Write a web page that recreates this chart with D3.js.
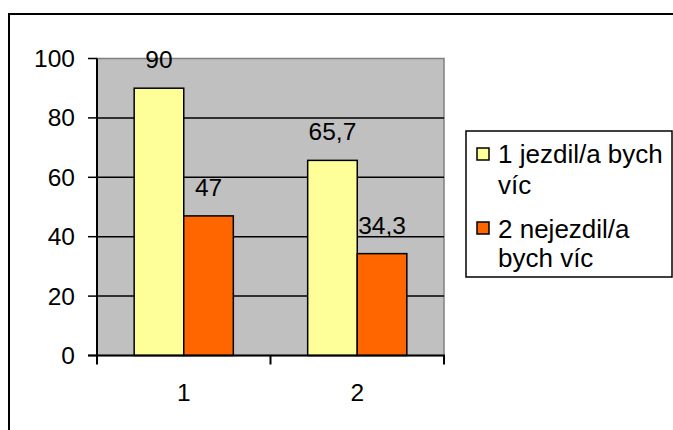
<!DOCTYPE html>
<html><head><meta charset="utf-8">
<script src="https://cdn.jsdelivr.net/npm/d3@7/dist/d3.min.js"></script>
<style>body{margin:0;background:#fff}svg{display:block;font-family:"Liberation Sans",Arial,sans-serif}</style>
</head><body>
<svg id="c" width="673" height="430"></svg>
<script>
const categories = ["1", "2"];
const seriesNames = ["1 jezdil/a bych víc", "2 nejezdil/a bych víc"];
const legendLines = [["1 jezdil/a bych", "víc"], ["2 nejezdil/a", "bych víc"]];
const seriesA = [90, 65.7];
const seriesB = [47, 34.3];
const yTicks = [0, 20, 40, 60, 80, 100];
const colors = ["#FFFF99", "#FF6600"];

const svg = d3.select("#c");
const L = 97, R = 444, T = 58.5, B = 355.5;
const fmt = v => String(v).replace(".", ",");

// outer frame
svg.append("rect").attr("x", 9).attr("y", 14).attr("width", 700).attr("height", 440)
  .attr("fill", "#fff").attr("stroke", "#000").attr("stroke-width", 2);

const y = d3.scaleLinear().domain([0, 100]).range([B, T]);
const x0 = d3.scaleBand().domain(categories).range([L, R]).padding(0);
const x1 = d3.scaleBand().domain([0, 1]).range([0, x0.bandwidth()]).paddingInner(0).paddingOuter(0.75);

// plot area
svg.append("rect").attr("x", L).attr("y", T).attr("width", R - L).attr("height", B - T)
  .attr("fill", "#C0C0C0").attr("stroke", "#808080").attr("stroke-width", 1.5);

// gridlines
svg.append("g").selectAll("line").data(yTicks.filter(d => d > 0 && d < 100)).join("line")
  .attr("x1", L).attr("x2", R).attr("y1", d => y(d)).attr("y2", d => y(d))
  .attr("stroke", "#000").attr("stroke-width", 1.5);

// bars
const data = categories.map((c, i) => ({c, vals: [seriesA[i], seriesB[i]]}));
const g = svg.append("g").selectAll("g").data(data).join("g")
  .attr("transform", d => `translate(${x0(d.c)},0)`);
g.selectAll("rect").data(d => d.vals.map((v, j) => ({v, j}))).join("rect")
  .attr("x", d => x1(d.j)).attr("width", x1.bandwidth())
  .attr("y", d => y(d.v)).attr("height", d => y(0) - y(d.v))
  .attr("fill", d => colors[d.j]).attr("stroke", "#000").attr("stroke-width", 1.5);
g.selectAll("text").data(d => d.vals.map((v, j) => ({v, j}))).join("text")
  .attr("x", d => x1(d.j) + x1.bandwidth() / 2).attr("y", d => y(d.v) - 20)
  .attr("text-anchor", "middle").attr("font-size", 24.5).attr("fill", "#000")
  .text(d => fmt(d.v));

// y axis
const yAxis = svg.append("g");
yAxis.append("line").attr("x1", L).attr("x2", L).attr("y1", T).attr("y2", B).attr("stroke", "#000").attr("stroke-width", 2);
yAxis.selectAll(".t").data(yTicks).join("line").attr("class", "t")
  .attr("x1", 88).attr("x2", L).attr("y1", d => y(d)).attr("y2", d => y(d))
  .attr("stroke", "#000").attr("stroke-width", 1.5);
yAxis.selectAll("text").data(yTicks).join("text")
  .attr("x", 75).attr("y", d => y(d) + 8.5).attr("text-anchor", "end")
  .attr("font-size", 24.5).text(d => d);

// x axis
const xAxis = svg.append("g");
xAxis.append("line").attr("x1", 88).attr("x2", R + 1).attr("y1", B).attr("y2", B).attr("stroke", "#000").attr("stroke-width", 2);
const bounds = [L, ...categories.map(c => x0(c) + x0.bandwidth())];
xAxis.selectAll(".t").data(bounds).join("line").attr("class", "t")
  .attr("x1", d => d).attr("x2", d => d).attr("y1", B).attr("y2", B + 9)
  .attr("stroke", "#000").attr("stroke-width", 2);
xAxis.selectAll("text").data(categories).join("text")
  .attr("x", d => x0(d) + x0.bandwidth() / 2).attr("y", 401)
  .attr("text-anchor", "middle").attr("font-size", 24.5).text(d => d);

// legend
const lg = svg.append("g");
lg.append("rect").attr("x", 466).attr("y", 131).attr("width", 206).attr("height", 146)
  .attr("fill", "#fff").attr("stroke", "#000").attr("stroke-width", 1.5);
const itemY = [148, 222];
const baseY = [[163, 194], [238, 267]];
legendLines.forEach((lines, i) => {
  lg.append("rect").attr("x", 477).attr("y", itemY[i]).attr("width", 12).attr("height", 12)
    .attr("fill", colors[i]).attr("stroke", "#000").attr("stroke-width", 1.5);
  lines.forEach((t, k) => {
    lg.append("text").attr("x", 498).attr("y", baseY[i][k]).attr("font-size", 26).text(t);
  });
});
</script>
</body></html>
